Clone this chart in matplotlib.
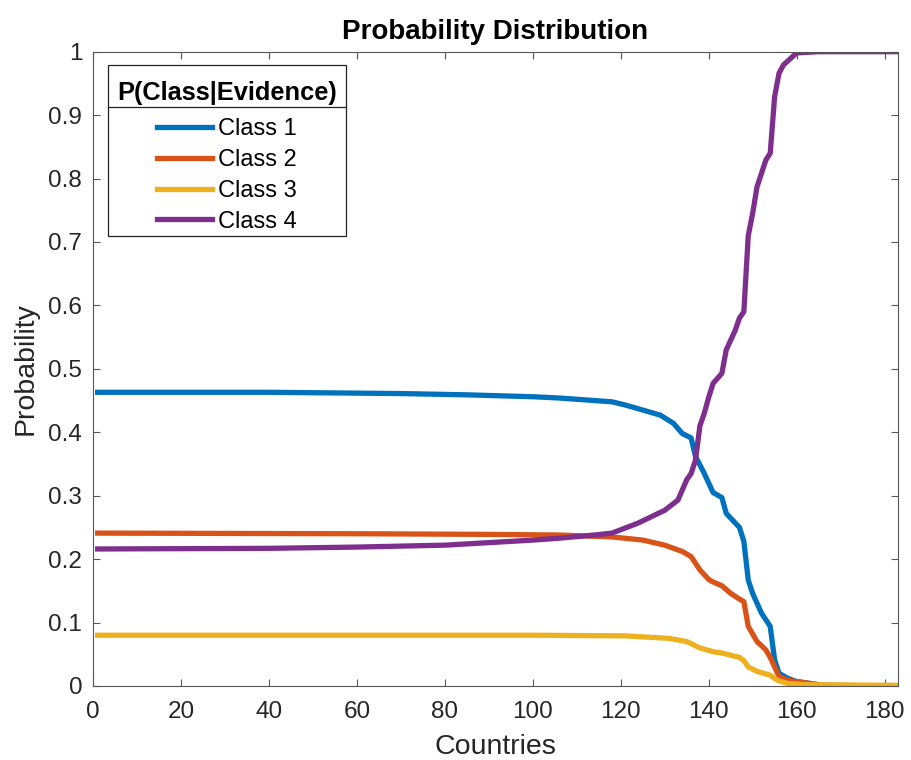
import matplotlib
matplotlib.use('Agg')
from matplotlib import pyplot as plt
from matplotlib.lines import Line2D
from matplotlib.patches import Rectangle

plt.rcParams['font.family'] = ['Liberation Sans', 'DejaVu Sans']

# values
class1_x = [1, 40, 70, 85, 100, 106, 112, 118, 121, 125, 129, 132, 134, 136, 137, 139,
            141, 143, 144, 147, 148, 149, 150, 152, 154, 155, 156, 158, 160, 163, 166, 183]
class1_y = [0.463, 0.463, 0.461, 0.459, 0.456, 0.454, 0.451, 0.448, 0.443, 0.435, 0.427,
            0.414, 0.398, 0.391, 0.362, 0.335, 0.305, 0.297, 0.272, 0.250, 0.228, 0.167,
            0.146, 0.115, 0.094, 0.041, 0.020, 0.012, 0.007, 0.004, 0.001, 0.000]

class2_x = [1, 60, 90, 106, 118, 125, 130, 134, 136, 138, 140, 141, 143, 145, 147, 148,
            149, 151, 153, 154, 155, 156, 158, 162, 166, 183]
class2_y = [0.241, 0.240, 0.239, 0.238, 0.235, 0.230, 0.222, 0.212, 0.204, 0.183, 0.168,
            0.164, 0.158, 0.146, 0.137, 0.133, 0.094, 0.070, 0.057, 0.045, 0.030, 0.015,
            0.009, 0.005, 0.001, 0.000]

class3_x = [1, 100, 121, 131, 135, 138, 141, 143, 147, 148, 149, 151, 154, 155, 156, 158,
            162, 183]
class3_y = [0.080, 0.080, 0.079, 0.075, 0.070, 0.060, 0.054, 0.052, 0.045, 0.040, 0.030,
            0.023, 0.017, 0.012, 0.008, 0.004, 0.002, 0.001]

class4_x = [1, 40, 60, 80, 90, 100, 106, 114, 118, 121, 124, 127, 130, 133, 135, 136, 137,
            138, 139, 140, 141, 142, 143, 144, 145, 146, 147, 148, 149, 150, 151, 153, 154,
            155, 156, 157, 160, 165, 183]
class4_y = [0.216, 0.217, 0.219, 0.222, 0.226, 0.230, 0.233, 0.238, 0.241, 0.249, 0.257,
            0.267, 0.277, 0.293, 0.325, 0.335, 0.356, 0.410, 0.430, 0.455, 0.477, 0.485,
            0.493, 0.530, 0.545, 0.560, 0.580, 0.590, 0.710, 0.745, 0.787, 0.829, 0.840,
            0.929, 0.966, 0.979, 0.998, 1.000, 1.000]

labels = ['Class 1', 'Class 2', 'Class 3', 'Class 4']
colors = ['#0072BD', '#D95319', '#EDB120', '#7E2F8E']

fig = plt.figure(figsize=(9.11, 7.6), dpi=100)
ax = fig.add_axes([0.1024, 0.0974, 0.883, 0.8346])

series = [(class1_x, class1_y), (class2_x, class2_y),
          (class3_x, class3_y), (class4_x, class4_y)]
for (xs, ys), lab, col in zip(series, labels, colors):
    ax.plot(xs, ys, color=col, linewidth=3.8, label=lab, solid_joinstyle='round')

ax.set_xlim(0, 183)
ax.set_ylim(0, 1)
ax.set_xticks(range(0, 181, 20))
ax.set_yticks([i / 10 for i in range(11)])
ax.set_yticklabels(['0'] + [f'0.{i}' for i in range(1, 10)] + ['1'])

axcol = '#262626'
for sp in ax.spines.values():
    sp.set_color('#555555')
    sp.set_linewidth(0.8)
ax.tick_params(direction='in', top=True, right=True, length=5, width=0.8,
               color='#555555', labelcolor=axcol, labelsize=17.5)
ax.tick_params(axis='x', pad=11)
ax.tick_params(axis='y', pad=8)

ax.set_xlabel('Countries', fontsize=20.5, color=axcol, labelpad=8)
ax.set_ylabel('Probability', fontsize=20.5, color=axcol, labelpad=7)
ax.set_title('Probability Distribution', fontsize=20, fontweight='bold', pad=9)

leg = ax.legend(title='P(Class|Evidence)', loc='upper left',
                bbox_to_anchor=(0.018, 0.968), fontsize=17,
                title_fontproperties={'weight': 'bold', 'size': 18.3},
                frameon=False, handlelength=2.33, handletextpad=0.25,
                labelspacing=0.37, borderpad=0.4, borderaxespad=0)
leg._legend_box.align = 'center'
leg._legend_box.sep += 3
leg.set_zorder(6)

# MATLAB style frame: box plus a rule under the title
fig.canvas.draw()
r = fig.canvas.get_renderer()
lb = leg.get_window_extent(r)
tb = leg.get_title().get_window_extent(r)
inv = fig.transFigure.inverted()
bx0, by0 = inv.transform((lb.x0, lb.y0 + 6))
bx1, by1 = inv.transform((lb.x1, lb.y1 + 7))
ax.add_patch(Rectangle((bx0, by0), bx1 - bx0, by1 - by0, transform=fig.transFigure,
                       facecolor='white', edgecolor='#222222', linewidth=0.9,
                       clip_on=False, zorder=5))
_, yl = inv.transform((0, tb.y0 - 1.5))
ax.add_line(Line2D([bx0, bx1], [yl, yl], color='#222222', linewidth=0.9,
                   transform=fig.transFigure, clip_on=False, zorder=5.5))

fig.savefig('out.png', dpi=100)
